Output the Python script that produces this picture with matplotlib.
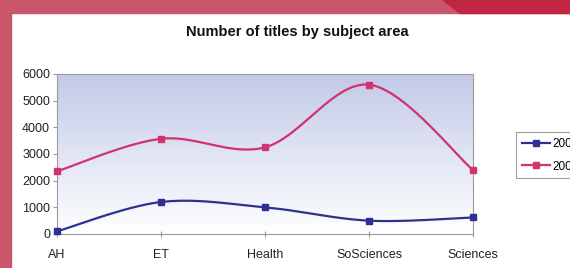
import numpy as np
import matplotlib.pyplot as plt
from matplotlib.patches import Rectangle, Polygon

categories = ['AH', 'ET', 'Health', 'SoSciences', 'Sciences']
series_a = [100, 1200, 1000, 500, 620]
series_b = [2350, 3570, 3250, 5600, 2400]
labels = ['2005', '2006']
yticks = [0, 1000, 2000, 3000, 4000, 5000, 6000]

W, H = 570, 268


def smooth(x, y, n=40):
    # excel-like smoothed line (catmull-rom bezier)
    x = np.asarray(x, float)
    y = np.asarray(y, float)
    px = np.concatenate([[x[0]], x, [x[-1]]])
    py = np.concatenate([[y[0]], y, [y[-1]]])
    t = np.linspace(0, 1, n)
    xs, ys = [], []
    for i in range(1, len(px) - 2):
        p0, p1, p2, p3 = py[i - 1], py[i], py[i + 1], py[i + 2]
        q0, q1, q2, q3 = px[i - 1], px[i], px[i + 1], px[i + 2]
        c1y, c2y = p1 + (p2 - p0) / 6, p2 - (p3 - p1) / 6
        c1x, c2x = q1 + (q2 - q0) / 6, q2 - (q3 - q1) / 6
        b = [(1 - t) ** 3, 3 * (1 - t) ** 2 * t, 3 * (1 - t) * t ** 2, t ** 3]
        xs.append(b[0] * q1 + b[1] * c1x + b[2] * c2x + b[3] * q2)
        ys.append(b[0] * p1 + b[1] * c1y + b[2] * c2y + b[3] * p2)
    return np.concatenate(xs), np.concatenate(ys)


fig = plt.figure(figsize=(W / 100, H / 100), dpi=100)
fig.patch.set_facecolor('white')

# slide border
pink = '#C9566A'
fig.patches.append(Rectangle((0, 1 - 13 / H), 1, 13 / H, transform=fig.transFigure,
                             color=pink, zorder=0))
fig.patches.append(Rectangle((0, 0), 11 / W, 1, transform=fig.transFigure,
                             color=pink, zorder=0))
fig.patches.append(Polygon([(443 / W, 1), (1, 1), (1, 1 - 13 / H), (460 / W, 1 - 13 / H)],
                           closed=True, transform=fig.transFigure, color='#BE2641', zorder=0))

ax = fig.add_axes([57 / W, 1 - 234 / H, (473 - 57) / W, (234 - 74) / H])

# gradient fill of the plot area
grad = np.linspace(0, 1, 256).reshape(-1, 1)
top = np.array([0.76, 0.79, 0.91])
bot = np.array([1.0, 1.0, 1.0])
img = bot + (top - bot) * grad[::-1] * np.ones((1, 3))
img = img.reshape(256, 1, 3)
ax.imshow(img, extent=[0, 1, 0, 1], transform=ax.transAxes, aspect='auto', zorder=0)

x = np.arange(len(categories))
blue = '#2E3192'
mag = '#D1336F'
for vals, col, lab in [(series_a, blue, labels[0]), (series_b, mag, labels[1])]:
    sx, sy = smooth(x, vals)
    ax.plot(sx, sy, color=col, lw=1.6, zorder=3, clip_on=False)
    ax.plot(x, vals, 's', color=col, ms=4.5, zorder=4, clip_on=False)
    ax.plot([], [], '-s', color=col, lw=1.6, ms=4, label=lab)

ax.set_xlim(0, len(categories) - 1)
ax.set_ylim(0, 6000)
ax.set_yticks(yticks)
ax.set_xticks(x)
ax.set_xticklabels(categories)
for s in ax.spines.values():
    s.set_color('#9A9A9A')
    s.set_linewidth(0.8)
ax.tick_params(axis='y', direction='out', length=3, color='#9A9A9A',
               labelsize=9, pad=2, labelcolor='#222222')
ax.tick_params(axis='x', direction='inout', length=5, color='#9A9A9A',
               labelsize=9, pad=8, labelcolor='#222222')
for t in ax.get_xticklabels() + ax.get_yticklabels():
    t.set_family('Liberation Sans')

fig.text(297 / W, 1 - 32 / H, 'Number of titles by subject area', ha='center', va='center',
         fontsize=10.5, fontweight='bold', family='Liberation Sans', color='#111111')

leg = ax.legend(loc='upper left', bbox_to_anchor=(516 / W, 1 - 132 / H),
                bbox_transform=fig.transFigure, frameon=True, fancybox=False,
                borderaxespad=0, handlelength=2.4, borderpad=0.5, labelspacing=0.9,
                handletextpad=0.2, prop={'family': 'Liberation Sans', 'size': 8.5})
leg.get_frame().set_edgecolor('#888888')
leg.get_frame().set_linewidth(0.8)

fig.savefig('out.png', dpi=100)
